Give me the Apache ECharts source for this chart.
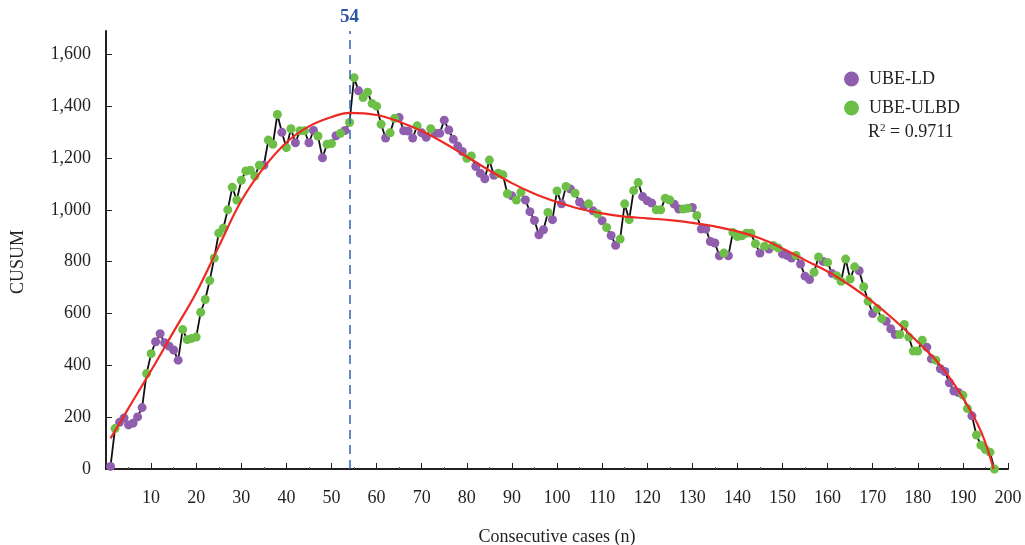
<!DOCTYPE html>
<html>
<head>
<meta charset="utf-8">
<script src="https://cdn.jsdelivr.net/npm/echarts@6/dist/echarts.min.js"></script>
<style>
  html, body { margin: 0; padding: 0; background: #fff; }
  #chart { width: 1025px; height: 545px; }
</style>
</head>
<body>
<div id="chart"></div>
<script>
// CUSUM value for each consecutive case (case 1 .. 197)
const cusum = [
  10, 156, 180, 197, 170, 177, 201, 237, 368, 445,
  491, 522, 487, 474, 459, 420, 538, 499, 504, 509,
  605, 654, 727, 814, 910, 929, 1000, 1087, 1038, 1114,
  1150, 1153, 1130, 1172, 1172, 1269, 1253, 1368, 1299, 1240,
  1313, 1259, 1305, 1305, 1259, 1306, 1285, 1201, 1253, 1256,
  1286, 1295, 1306, 1337, 1510, 1459, 1433, 1454, 1410, 1400,
  1330, 1277, 1297, 1353, 1356, 1305, 1304, 1277, 1324, 1297,
  1280, 1313, 1295, 1295, 1346, 1308, 1272, 1246, 1225, 1199,
  1208, 1167, 1141, 1120, 1192, 1133, 1141, 1135, 1062, 1054,
  1038, 1068, 1038, 993, 959, 904, 923, 990, 962, 1073,
  1023, 1090, 1080, 1064, 1030, 1015, 1023, 996, 985, 958,
  932, 901, 863, 887, 1023, 962, 1074, 1105, 1051, 1035,
  1026, 1000, 1000, 1045, 1038, 1022, 1003, 1003, 1006, 1009,
  978, 926, 926, 878, 872, 823, 833, 823, 913, 897,
  900, 910, 910, 869, 833, 859, 849, 862, 853, 830,
  824, 814, 824, 791, 744, 731, 759, 818, 801, 797,
  754, 746, 724, 810, 733, 780, 765, 703, 647, 600,
  618, 580, 570, 541, 519, 519, 558, 509, 455, 455,
  497, 470, 425, 420, 387, 376, 333, 301, 295, 285,
  233, 205, 131, 92, 75, 65, 0
];

// group of each case: L = UBE-LD, U = UBE-ULBD
const groups = [
  'L','U','L','L','L','L','L','L','U','U',
  'L','L','L','L','L','L','U','U','U','U',
  'U','U','U','U','U','U','U','U','U','U',
  'U','U','U','U','L','U','U','U','L','U',
  'U','L','U','U','L','L','U','L','U','U',
  'L','U','L','U','U','L','U','U','U','U',
  'U','L','U','U','L','L','L','L','U','L',
  'L','U','L','L','L','L','L','L','L','U',
  'U','L','L','L','U','L','U','U','U','L',
  'U','U','L','L','L','L','L','U','L','U',
  'L','U','L','U','L','L','U','L','U','L',
  'U','L','L','U','U','U','U','U','L','L',
  'L','U','U','U','U','L','L','U','U','L',
  'U','L','L','L','L','L','U','L','U','U',
  'U','U','U','U','L','U','L','U','U','L',
  'L','L','U','L','L','L','U','U','L','U',
  'L','U','U','U','U','U','L','U','U','L',
  'U','U','L','L','L','U','U','U','U','U',
  'U','L','L','U','L','L','L','L','L','U',
  'U','L','U','U','U','U','U'
];

// fitted trend curve: case positions and values
const fitX = [1, 5, 10, 15, 20, 25, 30, 35, 40, 45, 50, 54, 60, 65, 70, 75, 80, 85, 90, 95,
  100, 105, 110, 115, 120, 125, 130, 135, 140, 145, 150, 155, 160, 165, 170, 175, 180, 185, 190, 194, 196.8];
const fitY = [118, 235, 380, 530, 680, 858, 1035, 1163, 1260, 1322, 1358, 1374, 1366, 1340, 1304, 1258, 1205, 1152, 1103, 1062,
  1030, 1004, 986, 974, 967, 960, 950, 936, 917, 890, 851, 806, 762, 708, 645, 572, 490, 400, 275, 145, 0];

const cutCase = 54;
const yTicks = [0, 200, 400, 600, 800, 1000, 1200, 1400, 1600];

const allPts = cusum.map((v, i) => [i + 1, v]);
const ldPts = allPts.filter((p, i) => groups[i] === 'L');
const ulbdPts = allPts.filter((p, i) => groups[i] === 'U');
const fitPts = fitX.map((x, i) => [x, fitY[i]]);

const serif = '"Liberation Serif", "DejaVu Serif", serif';
const ink = '#231f20';
const purple = '#8f5fae';
const green = '#6dbf47';

const chart = echarts.init(document.getElementById('chart'));
chart.setOption({
  animation: false,
  backgroundColor: '#fff',
  grid: { left: 106, right: 17, top: 31, bottom: 76, outerBoundsMode: 'none' },
  legend: {
    orient: 'vertical',
    left: 839,
    top: 65,
    itemGap: 11,
    itemWidth: 15,
    itemHeight: 15,
    icon: 'circle',
    data: ['UBE-LD', 'UBE-ULBD'],
    textStyle: { fontFamily: serif, fontSize: 18, color: ink, padding: [0, 0, 0, 5] }
  },
  xAxis: {
    type: 'value',
    min: 0,
    max: 200,
    interval: 10,
    name: 'Consecutive cases (n)',
    nameLocation: 'middle',
    nameGap: 59,
    nameTextStyle: { fontFamily: serif, fontSize: 18, color: ink },
    splitLine: { show: false },
    axisLine: { lineStyle: { color: ink, width: 2 } },
    axisTick: { inside: true, length: 6, lineStyle: { color: ink, width: 1 } },
    minorTick: { show: true, splitNumber: 2, length: 2, lineStyle: { color: '#555' } },
    axisLabel: {
      fontFamily: serif, fontSize: 18, color: ink, margin: 20,
      formatter: v => (v === 0 ? '' : v)
    }
  },
  yAxis: {
    type: 'value',
    min: 0,
    max: 1690,
    splitLine: { show: false },
    axisLine: { show: true, lineStyle: { color: ink, width: 2 } },
    axisTick: { show: true, inside: true, length: 6, customValues: yTicks, lineStyle: { color: ink } },
    axisLabel: {
      fontFamily: serif, fontSize: 18, color: ink, margin: 15,
      customValues: yTicks,
      formatter: v => v.toLocaleString('en-US')
    }
  },
  graphic: [
    {
      type: 'text',
      left: 9,
      top: 230,
      rotation: Math.PI / 2,
      style: { text: 'CUSUM', font: '18px ' + serif, fill: ink }
    },
    {
      type: 'text',
      left: 868,
      top: 123,
      style: {
        text: '{a|R}{b|2}{a| = 0.9711}',
        rich: {
          a: { fontFamily: serif, fontSize: 18, fill: ink },
          b: { fontFamily: serif, fontSize: 11, fill: ink, verticalAlign: 'top', padding: [0, 0, 8, 0] }
        }
      }
    }
  ],
  series: [
    {
      name: 'path',
      type: 'line',
      data: allPts,
      symbol: 'none',
      z: 1,
      lineStyle: { color: '#111', width: 1.8 },
      markLine: {
        silent: true,
        symbol: 'none',
        data: [{ xAxis: cutCase }],
        lineStyle: { color: '#3563b0', width: 1.5, type: [9, 6] },
        label: {
          position: 'end',
          formatter: String(cutCase),
          fontFamily: serif,
          fontSize: 19,
          fontWeight: 'bold',
          color: '#2f56a3',
          distance: 4
        }
      }
    },
    {
      name: 'UBE-LD',
      type: 'scatter',
      data: ldPts,
      symbolSize: 9,
      z: 2,
      itemStyle: { color: purple, opacity: 1 }
    },
    {
      name: 'UBE-ULBD',
      type: 'scatter',
      data: ulbdPts,
      symbolSize: 9,
      z: 2,
      itemStyle: { color: green, opacity: 1 }
    },
    {
      name: 'fit',
      type: 'line',
      data: fitPts,
      smooth: 0.4,
      symbol: 'none',
      z: 3,
      lineStyle: { color: '#ec2a23', width: 2.2 }
    }
  ]
});
window.addEventListener('resize', function () {
  chart.resize();
});
</script>
</body>
</html>
